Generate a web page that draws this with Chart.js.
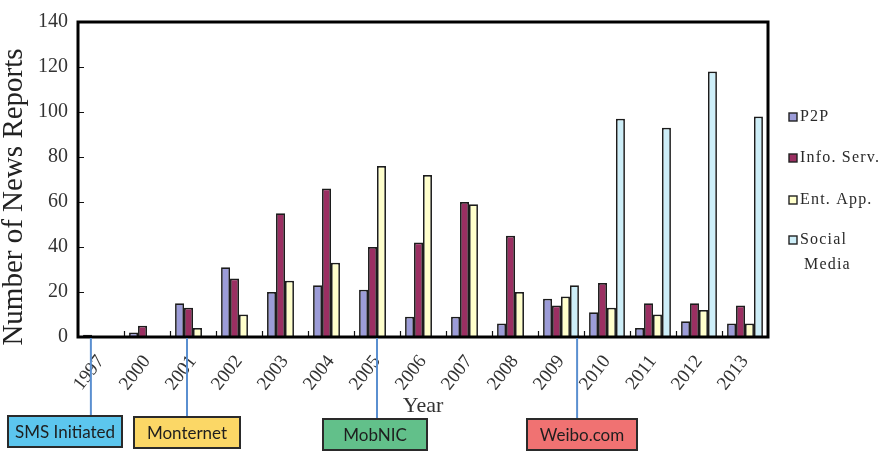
<!DOCTYPE html>
<html>
<head>
<meta charset="utf-8">
<script src="https://cdn.jsdelivr.net/npm/chart.js@4/dist/chart.umd.min.js"></script>
<style>
  html, body { margin: 0; padding: 0; background: #ffffff; }
  #wrap { width: 890px; height: 452px; position: relative; }
</style>
</head>
<body>
<div id="wrap"><canvas id="c" width="890" height="452"></canvas></div>
<script>
// News reports per year, by topic
const years = ['1997', '2000', '2001', '2002', '2003', '2004', '2005', '2006', '2007', '2008', '2009', '2010', '2011', '2012', '2013'];
const p2p = [1, 2, 15, 31, 20, 23, 21, 9, 9, 6, 17, 11, 4, 7, 6];
const infoServ = [0, 5, 13, 26, 55, 66, 40, 42, 60, 45, 14, 24, 15, 15, 14];
const entApp = [0, 0, 4, 10, 25, 33, 76, 72, 59, 20, 18, 13, 10, 12, 6];
const socialMedia = [0, 0, 0, 0, 0, 0, 0, 0, 0, 0, 23, 97, 93, 118, 98];
const seriesNames = [['P2P'], ['Info. Serv.'], ['Ent. App.'], ['Social', 'Media']];
const yTicks = [0, 20, 40, 60, 80, 100, 120, 140];

// Milestones marked under the year axis
const eventNames = ['SMS Initiated', 'Monternet', 'MobNIC', 'Weibo.com'];
const eventColors = ['#5cc6ee', '#fbd766', '#62c08a', '#f07272'];

// Where each milestone line meets the axis (category position) and how its box sits
const eventLayout = [
  { at: -0.22, boxDx: -26, w: 114, top: 416 },
  { at: 1.87, boxDx: 0, w: 106, top: 417 },
  { at: 6.0, boxDx: -2, w: 104, top: 419 },
  { at: 10.35, boxDx: 5, w: 110, top: 419 }
];

const fills = ['#9c9cd8', '#9b2f62', '#ffffcc', '#cdeef8'];
const SERIF = '"Liberation Serif", "Times New Roman", serif';

const framePlugin = {
  id: 'frame',
  afterDraw(chart) {
    const ctx = chart.ctx;
    const a = chart.chartArea;
    const xs = chart.scales.x, ys = chart.scales.y;
    ctx.save();

    // inner tick marks
    ctx.strokeStyle = '#111';
    ctx.lineWidth = 1.2;
    ctx.beginPath();
    yTicks.forEach(v => {
      const y = Math.round(ys.getPixelForValue(v)) + 0.5;
      ctx.moveTo(a.left, y); ctx.lineTo(a.left + 6, y);
    });
    for (let i = 1; i < years.length; i++) {
      const x = Math.round(xs.getPixelForValue(i - 0.5)) + 0.5;
      ctx.moveTo(x, a.bottom); ctx.lineTo(x, a.bottom - 6);
    }
    ctx.stroke();

    // plot frame
    ctx.strokeStyle = '#000';
    ctx.lineWidth = 3;
    ctx.strokeRect(a.left, a.top, a.right - a.left, a.bottom - a.top);

    // y axis title
    ctx.save();
    ctx.translate(14, 197);
    ctx.rotate(-Math.PI / 2);
    ctx.font = '29px ' + SERIF;
    ctx.fillStyle = '#222';
    ctx.textAlign = 'center';
    ctx.textBaseline = 'middle';
    ctx.fillText('Number of News Reports', 0, 0);
    ctx.restore();

    // legend
    const rowsY = [117, 158, 200, 240];
    ctx.font = '16px ' + SERIF;
    if ('letterSpacing' in ctx) ctx.letterSpacing = '1.2px';
    ctx.textBaseline = 'middle';
    ctx.textAlign = 'left';
    chart.data.datasets.forEach((ds, i) => {
      const y = rowsY[i];
      ctx.fillStyle = ds.backgroundColor;
      ctx.fillRect(789, y - 4, 8, 8);
      ctx.strokeStyle = '#222';
      ctx.lineWidth = 1.4;
      ctx.strokeRect(789, y - 4, 8, 8);
      ctx.fillStyle = '#2a2a2a';
      seriesNames[i].forEach((t, k) => {
        ctx.fillText(t, k === 0 ? 800 : 804, y + k * 25);
      });
    });
    if ('letterSpacing' in ctx) ctx.letterSpacing = '0px';

    // milestone lines and boxes
    eventNames.forEach((name, i) => {
      const L = eventLayout[i];
      const x = xs.getPixelForValue(L.at);
      ctx.strokeStyle = '#5a8fd0';
      ctx.lineWidth = 2;
      ctx.beginPath();
      ctx.moveTo(x, a.bottom + 1);
      ctx.lineTo(x, L.top);
      ctx.stroke();
      const cx = x + L.boxDx;
      const bx = Math.round(cx - L.w / 2), by = L.top, bh = 31;
      ctx.fillStyle = eventColors[i];
      ctx.fillRect(bx, by, L.w, bh);
      ctx.strokeStyle = '#2a2a2a';
      ctx.lineWidth = 2;
      ctx.strokeRect(bx, by, L.w, bh);
      ctx.fillStyle = '#1e1e1e';
      ctx.font = '17px Lato, "Open Sans", sans-serif';
      ctx.textAlign = 'center';
      ctx.textBaseline = 'middle';
      ctx.fillText(name, bx + L.w / 2, by + bh / 2 + 1);
    });

    ctx.restore();
  }
};

const mkSet = (label, data, i) => ({
  label, data,
  backgroundColor: fills[i],
  borderColor: '#1c1c1c',
  borderWidth: 1.7,
  borderSkipped: 'start',
  barPercentage: 1.0,
  categoryPercentage: 0.78
});

new Chart(document.getElementById('c'), {
  type: 'bar',
  data: {
    labels: years,
    datasets: [
      mkSet('P2P', p2p, 0),
      mkSet('Info. Serv.', infoServ, 1),
      mkSet('Ent. App.', entApp, 2),
      mkSet('Social Media', socialMedia, 3)
    ]
  },
  options: {
    responsive: false,
    animation: false,
    events: [],
    layout: { padding: { top: 13, right: 122, left: 0, bottom: 0 } },
    plugins: { legend: { display: false }, tooltip: { enabled: false } },
    scales: {
      x: {
        offset: true,
        grid: { display: false, drawTicks: false },
        border: { display: false },
        ticks: {
          autoSkip: false,
          maxRotation: 52,
          minRotation: 52,
          padding: 14,
          color: '#333',
          font: { family: SERIF, size: 19 }
        },
        title: {
          display: true,
          text: 'Year',
          color: '#333',
          font: { family: SERIF, size: 22 },
          padding: { top: 0, bottom: 33 }
        },
        afterFit(scale) { scale.height = 115; }
      },
      y: {
        min: 0,
        max: 140,
        afterBuildTicks(scale) { scale.ticks = yTicks.map(v => ({ value: v })); },
        grid: { display: false, drawTicks: false },
        border: { display: false },
        ticks: {
          padding: 10,
          color: '#333',
          font: { family: SERIF, size: 20 }
        },
        afterFit(scale) { scale.width = 78; }
      }
    }
  },
  plugins: [framePlugin]
});
</script>
</body>
</html>
